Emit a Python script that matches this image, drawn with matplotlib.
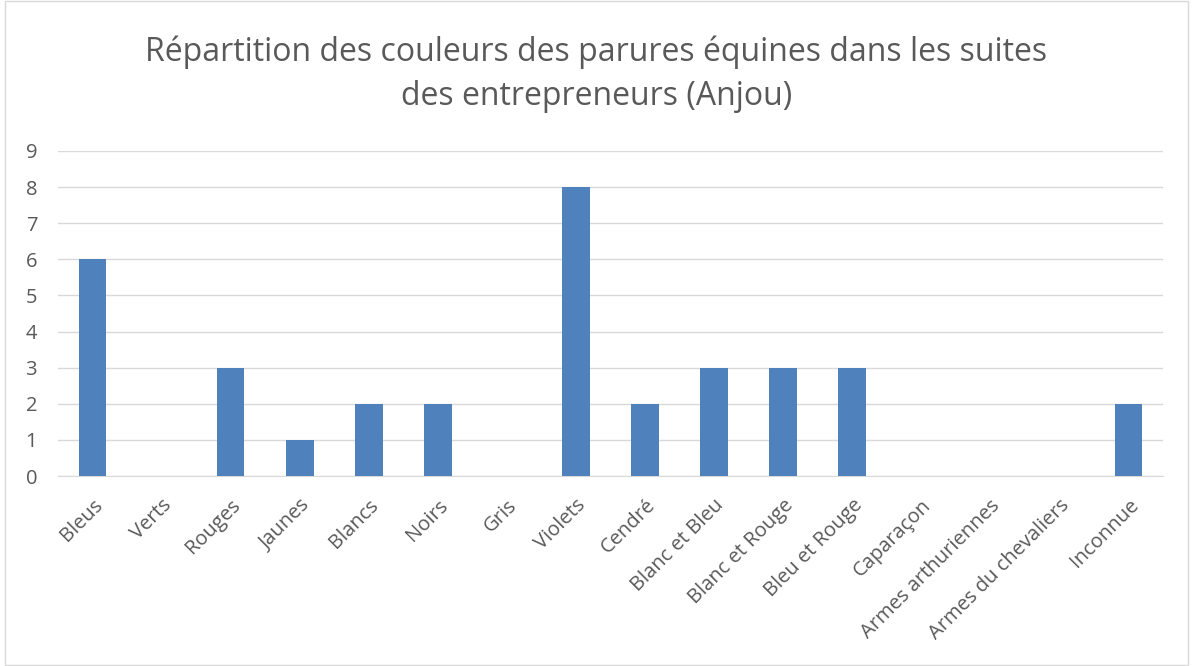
import matplotlib
matplotlib.use("Agg")
import matplotlib.pyplot as plt
from matplotlib.patches import Rectangle

categories = ["Bleus", "Verts", "Rouges", "Jaunes", "Blancs", "Noirs", "Gris", "Violets",
              "Cendré", "Blanc et Bleu", "Blanc et Rouge", "Bleu et Rouge", "Caparaçon",
              "Armes arthuriennes", "Armes du chevaliers", "Inconnue"]
values = [6, 0, 3, 1, 2, 2, 0, 8, 2, 3, 3, 3, 0, 0, 0, 2]
yticks = list(range(0, 10))
title = "Répartition des couleurs des parures équines dans les suites\ndes entrepreneurs (Anjou)"

plt.rcParams['font.family'] = ['Open Sans', 'DejaVu Sans']
fig = plt.figure(figsize=(11.93, 6.66), dpi=100)
ax = fig.add_axes([58/1193, 1 - 476/666, (1163-58)/1193, (476-151)/666])

x = list(range(len(categories)))
ax.bar(x, values, width=0.4, color="#4F81BD", zorder=3)
ax.set_xlim(-0.5, len(categories) - 0.5)
ax.set_ylim(0, 9)
ax.set_yticks(yticks)
ax.set_yticklabels([str(v) for v in yticks], fontsize=14.5, color="#595959")
ax.set_xticks(x)
ax.set_xticklabels(categories, rotation=45, ha="right", rotation_mode="anchor",
                   fontsize=14.5, color="#595959")
ax.tick_params(axis="y", length=0, pad=15)
ax.tick_params(axis="x", length=0, pad=14)
ax.grid(axis="y", color="#D9D9D9", linewidth=1, zorder=0)
for s in ["top", "right", "left"]:
    ax.spines[s].set_visible(False)
ax.spines["bottom"].set_color("#D9D9D9")

fig.text(0.5, 1 - 74/666, title, ha="center", va="center", fontsize=23,
         color="#595959", linespacing=1.45)

fig.patches.append(Rectangle((0.004, 0.002), 0.992, 0.996, transform=fig.transFigure,
                             fill=False, edgecolor="#D9D9D9", linewidth=1))

fig.savefig("out.png", dpi=100)
